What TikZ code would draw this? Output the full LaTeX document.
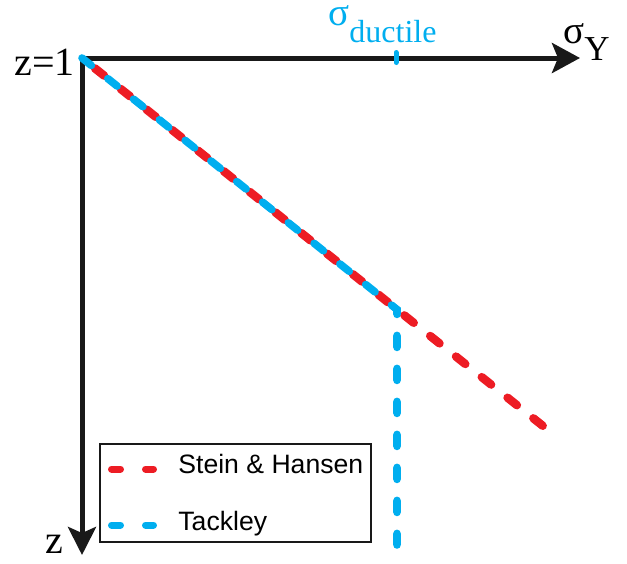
\documentclass[tikz,border=0pt]{standalone}
\usepackage{fontspec}
\setmainfont{Liberation Serif}
\setsansfont{Liberation Sans}
\usetikzlibrary{arrows.meta}
\definecolor{redline}{RGB}{237,28,36}
\definecolor{blueline}{RGB}{0,174,239}

\begin{document}
\begin{tikzpicture}[x=0.5pt, y=-0.5pt,
        axis/.style={draw=black!90, line width=2.5pt, line join=miter, {Stealth[length=14pt, width=15pt, inset=3pt]}-{Stealth[length=14pt, width=14pt, inset=3pt]}},
        shline/.style={draw=redline, line width=4.2pt, line cap=round, dash pattern=on 6pt off 10.5pt, dash phase=8.25pt},
        tkline/.style={draw=blueline, line width=3.8pt, line cap=round, dash pattern=on 6pt off 10.5pt},
        legline/.style={line width=3.5pt, line cap=round, dash pattern=on 4.5pt off 12.5pt},
        lbl/.style={inner sep=0pt, font=\fontsize{20}{20}\selectfont},
        legtext/.style={inner sep=0pt, font=\sffamily\fontsize{13.3}{14}\selectfont}]
        \useasboundingbox (0,0) rectangle (627,563);

        % axes
        \coordinate (O) at (82,58);
        \coordinate (sigend) at (580,58);
        \coordinate (zend) at (82,555);
        \draw[axis] (sigend) -- (O) -- (zend);

        \node[lbl, anchor=base east] (ztop) at (75,75) {z=1};
        \node[lbl, anchor=base west] (zbot) at (45,553) {z};
        \node[lbl, anchor=base west] (sigY) at (563,43) {\fontsize{19.5}{20}\selectfont σ\raisebox{-8.5pt}{\fontsize{17.5}{18}\selectfont Y}};
        \node[lbl, anchor=base west, text=blueline, text height=9pt] (sigduct) at (328,25) {\fontsize{19.5}{20}\selectfont σ\raisebox{-8.5pt}{\fontsize{16}{16}\selectfont ductile}};

        % yield curves
        \coordinate (tickt) at (396,52.5);
        \coordinate (tickb) at (396,62.5);
        \coordinate (yield) at (397,309.5);
        \coordinate (shend) at (548,430);
        \coordinate (tkend) at (397,545);
        \draw[draw=blueline, line width=2.5pt, line cap=round] (tickt) -- (tickb);
        \draw[shline] (O) -- (shend);
        \draw[tkline] (O) -- (yield) -- (tkend);

        % legend
        \node[draw=black!90, line width=1pt, minimum width=135.5pt, minimum height=49pt, inner sep=0pt] (legend) at (235.5,493) {};
        \node[legtext, anchor=base west] (lsh) at (178,473) {Stein \& Hansen};
        \node[legtext, anchor=base west] (ltk) at (178,530) {Tackley};
        \coordinate (shA) at (111.5,469);
        \coordinate (shB) at (153.5,469);
        \coordinate (tkA) at (111.5,525);
        \coordinate (tkB) at (153.5,525);
        \draw[legline, draw=redline] (shA) -- (shB);
        \draw[legline, draw=blueline] (tkA) -- (tkB);
    \end{tikzpicture}
\end{document}
